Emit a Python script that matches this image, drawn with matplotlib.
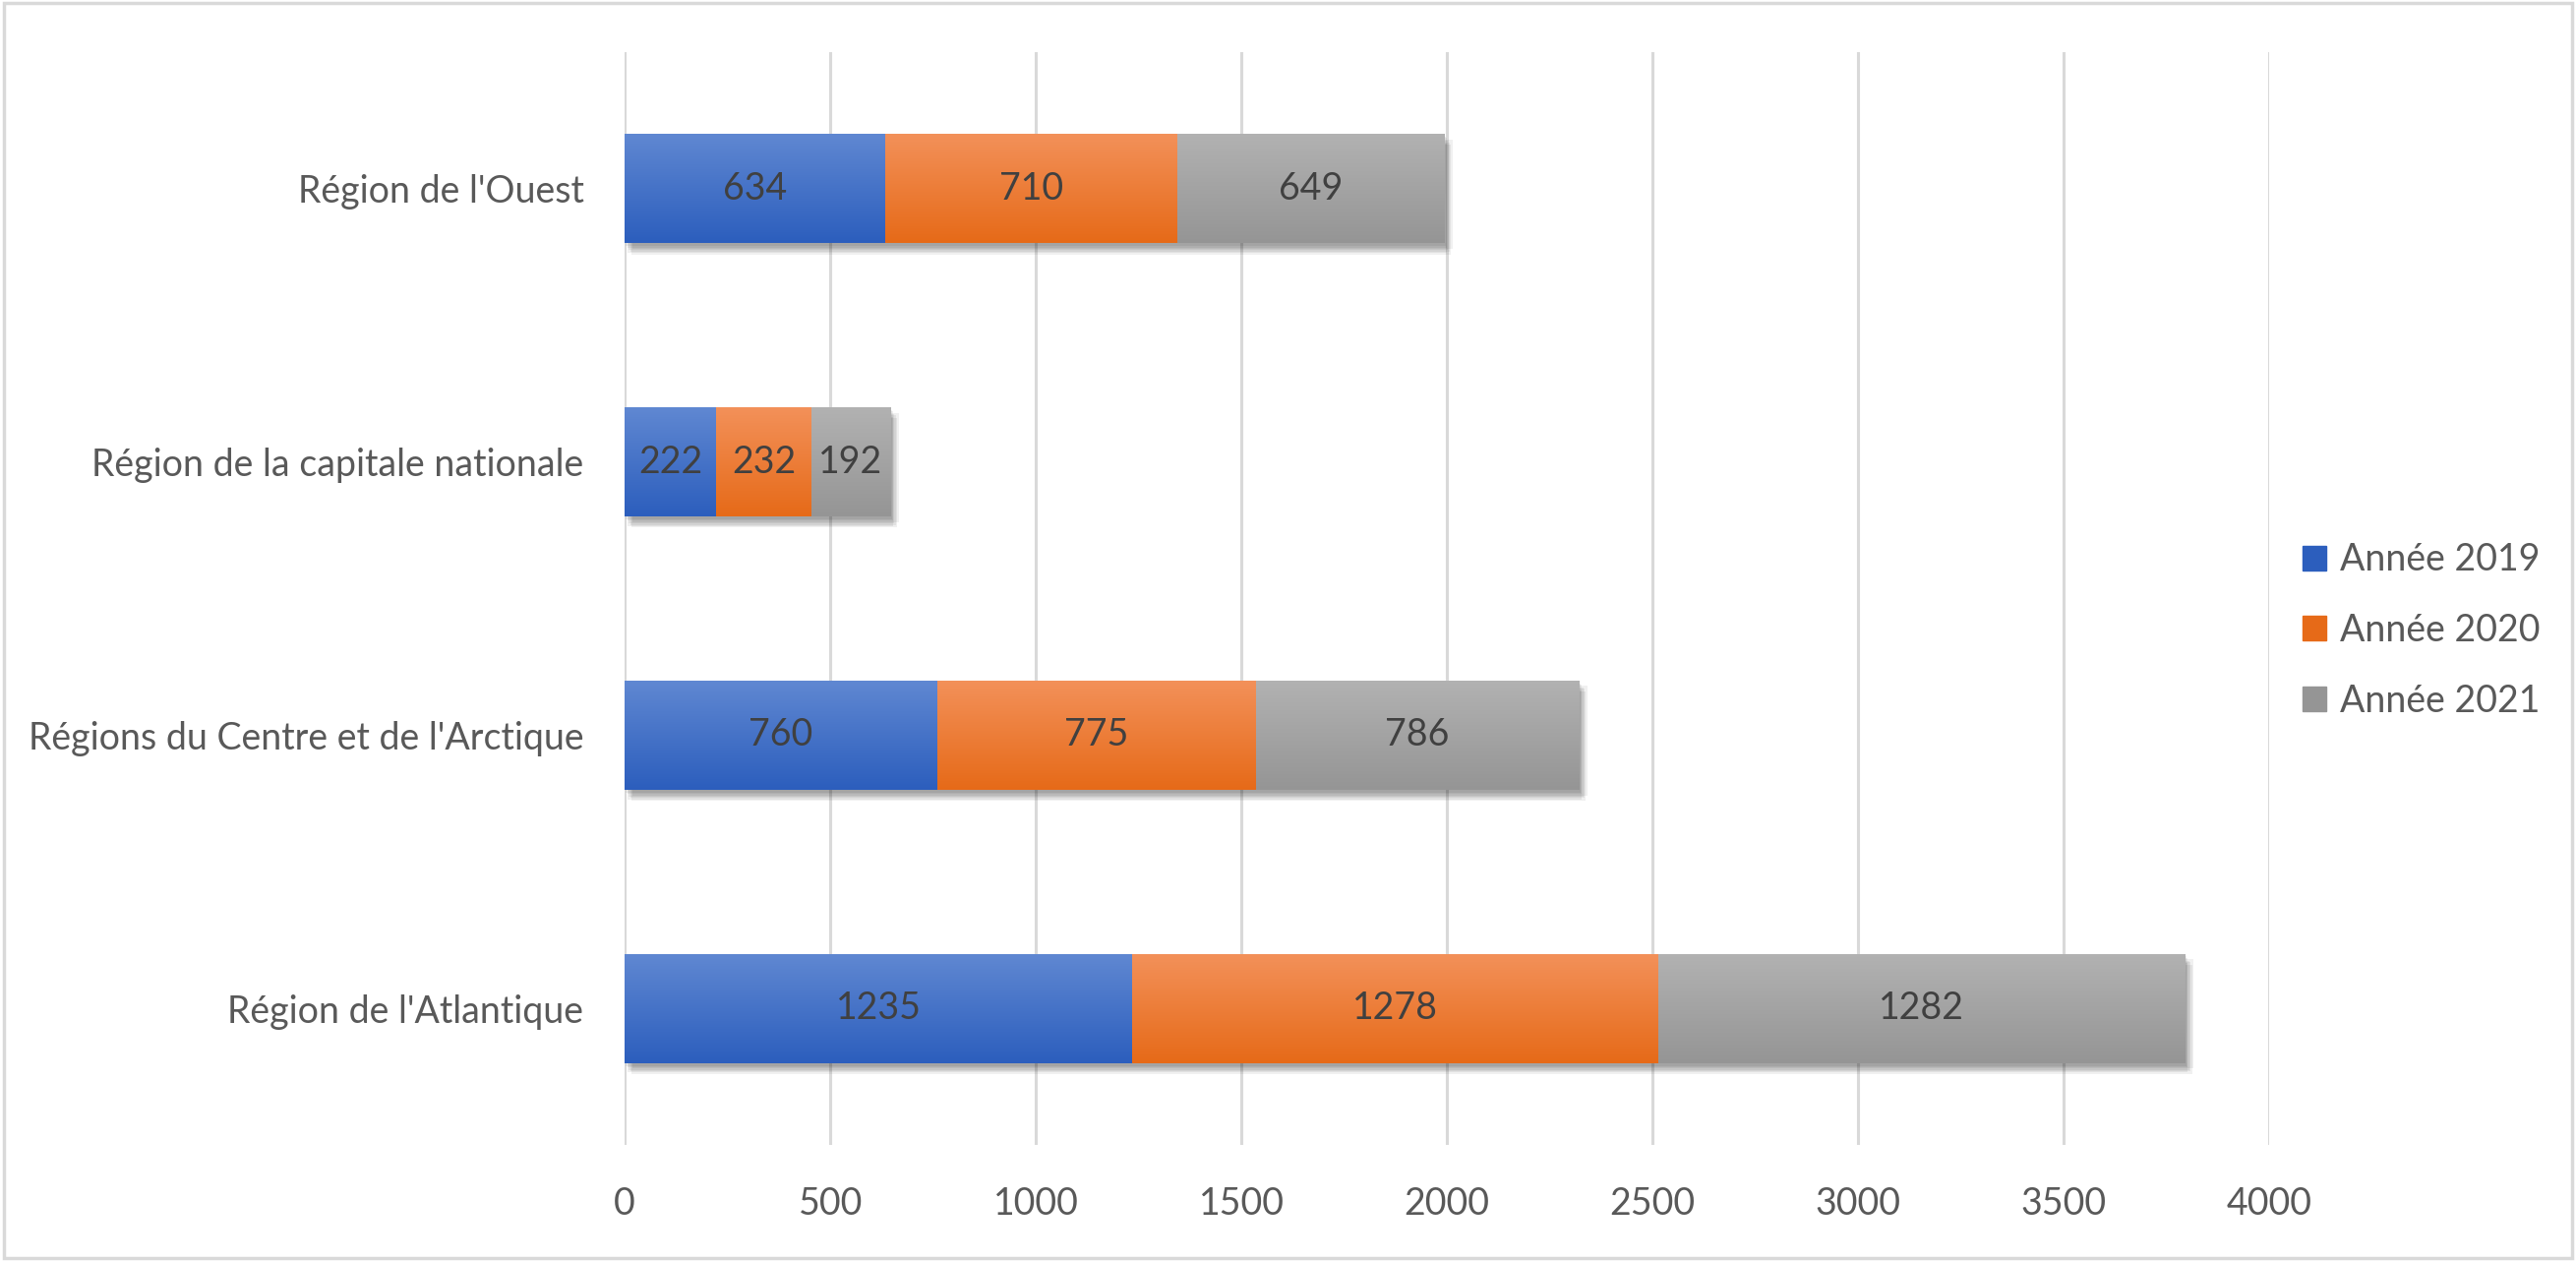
import matplotlib
matplotlib.use("Agg")
import matplotlib.pyplot as plt
import matplotlib.patheffects as pe
import numpy as np
from matplotlib.colors import LinearSegmentedColormap

categories = ["Région de l'Atlantique", "Régions du Centre et de l'Arctique",
              "Région de la capitale nationale", "Région de l'Ouest"]
series_names = ["Année 2019", "Année 2020", "Année 2021"]
v2019 = [1235, 760, 222, 634]
v2020 = [1278, 775, 232, 710]
v2021 = [1282, 786, 192, 649]
xticks = [0, 500, 1000, 1500, 2000, 2500, 3000, 3500, 4000]

grad = {
    "Année 2019": ("#6088D2", "#2C5EBD"),
    "Année 2020": ("#F3915A", "#E66A18"),
    "Année 2021": ("#B2B2B2", "#959595"),
}

plt.rcParams['font.family'] = ['Lato', 'DejaVu Sans']
txt = "#595959"
FS = 27

fig = plt.figure(figsize=(26.19, 12.82), dpi=100)
ax = fig.add_axes([0.2425, 0.092, 0.881 - 0.2425, 0.9587 - 0.092])
ax.set_xlim(0, 4000)
ax.set_ylim(-0.5, 3.5)

shadow = [pe.SimplePatchShadow(offset=(dx, dy), shadow_rgbFace='#000000', alpha=0.06)
          for dx, dy in [(1, -2), (2, -3), (3, -5), (4, -6), (5, -8), (2, -7), (6, -4)]]
shadow.append(pe.Normal())

y = np.arange(len(categories))
left = np.zeros(len(categories))
handles = []
for name, vals in zip(series_names, [v2019, v2020, v2021]):
    top, bot = grad[name]
    bars = ax.barh(y, vals, left=left, height=0.4, color=bot, edgecolor='none', zorder=3,
                   path_effects=shadow)
    cmap = LinearSegmentedColormap.from_list(name, [bot, top])
    gimg = np.linspace(0, 1, 256).reshape(-1, 1)
    for b, v, l in zip(bars, vals, left):
        x0, y0 = b.get_x(), b.get_y()
        w, h = b.get_width(), b.get_height()
        im = ax.imshow(gimg, cmap=cmap, aspect='auto', origin='lower',
                       extent=(x0, x0 + w, y0, y0 + h), zorder=3.5, interpolation='bilinear')
        im.set_clip_path(b)
        ax.text(l + v / 2, b.get_y() + h / 2, str(v), ha='center', va='center',
                fontsize=FS, color='#404040', zorder=5)
    handles.append(bars)
    left = left + np.array(vals)

ax.set_xticks(xticks)
ax.set_xticklabels([str(t) for t in xticks])
ax.set_yticks(y)
ax.set_yticklabels(categories)
ax.tick_params(axis='both', length=0, labelsize=FS, colors=txt)
ax.tick_params(axis='x', pad=30)
ax.tick_params(axis='y', pad=30)
ax.xaxis.grid(True, color='#D9D9D9', linewidth=2.2, zorder=0)
ax.set_axisbelow(True)
for s in ax.spines.values():
    s.set_visible(False)

leg = fig.legend([h[0] for h in handles], series_names, loc='center left',
                 bbox_to_anchor=(0.881, 0.50), frameon=False, fontsize=FS,
                 labelcolor=txt, handlelength=0.65, handleheight=0.65, handletextpad=0.35,
                 labelspacing=0.95)
for h, name in zip(leg.legend_handles, series_names):
    h.set_color(grad[name][1])
    h.set_path_effects([])

border = plt.Rectangle((0.0015, 0.002), 0.997, 0.996, transform=fig.transFigure,
                       fill=False, edgecolor='#D9D9D9', linewidth=2.5)
fig.patches.append(border)

fig.savefig("out.png", dpi=100, facecolor='white')
